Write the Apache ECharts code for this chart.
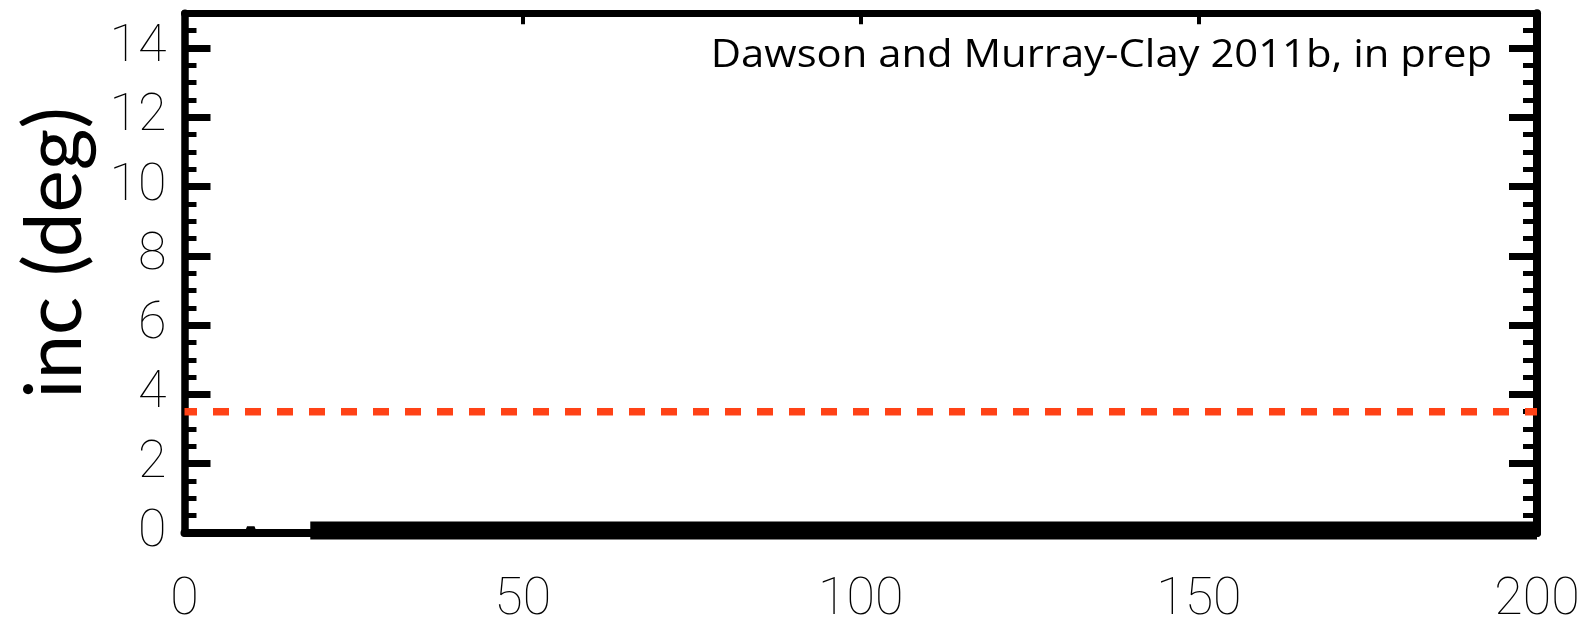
<!DOCTYPE html>
<html>
<head>
<meta charset="utf-8">
<script src="https://cdn.jsdelivr.net/npm/echarts@6/dist/echarts.min.js"></script>
<style>
html,body{margin:0;padding:0;background:#fff;}
#chart{width:1588px;height:621px;}
</style>
</head>
<body>
<div id="chart"></div>
<script>
// ---- data ----
const xTickValues = [0, 50, 100, 150, 200];
const xTopTicks = [50, 100, 150];
const yMajorTicks = [0, 2, 4, 6, 8, 10, 12, 14];
const yMinorTicks = [0.5, 1, 1.5, 2.5, 3, 3.5, 4.5, 5, 5.5, 6.5, 7, 7.5, 8.5, 9, 9.5,
                     10.5, 11, 11.5, 12.5, 13, 13.5, 14.5];
// early (pre-instability) inclination, near zero with a small blip
const earlyX = [0, 9.5, 9.8, 10.1, 18.6];
const earlyY = [0, 0, 0.15, 0, 0];
// later inclination: rapid small oscillation drawn as a thick band
const lateX = [18.6, 200];
const lateY = [0.07, 0.07];
// reference inclination (dashed red)
const refX = [0, 200];
const refY = [3.5, 3.5];
const annotation = 'Dawson and Murray-Clay 2011b, in prep';
const yTitle = 'inc (deg)';

const zip = (a, b) => a.map((v, i) => [v, b[i]]);

const labelFont = {
  fontFamily: 'Roboto',
  fontWeight: 100,
  fontSize: 52,
  color: '#000'
};
const gridRect = {left: 184.5, right: 51, top: 13.3, bottom: 88, containLabel: false,
                  outerBoundsMode: 'none'};

const hiddenX = {
  type: 'value', min: 0, max: 200, gridIndex: 1, show: false
};
const chart = echarts.init(document.getElementById('chart'), null, {renderer: 'canvas'});
const option = {
  backgroundColor: '#fff',
  animation: false,
  grid: [Object.assign({}, gridRect), Object.assign({}, gridRect)],
  xAxis: [
    {
      type: 'value', gridIndex: 0, min: 0, max: 200, interval: 50, position: 'bottom',
      axisLine: {show: true, onZero: false, lineStyle: {color: '#000', width: 8}},
      axisTick: {show: true, inside: true, length: 10, lineStyle: {color: '#000', width: 4}},
      axisLabel: Object.assign({margin: 42, customValues: xTickValues}, labelFont),
      splitLine: {show: false}
    },
    {
      type: 'value', gridIndex: 0, min: 0, max: 200, interval: 50, position: 'top',
      axisLine: {show: true, onZero: false, lineStyle: {color: '#000', width: 7}},
      axisTick: {show: true, inside: true, length: 11, customValues: xTopTicks,
                 lineStyle: {color: '#000', width: 4}},
      axisLabel: {show: false},
      splitLine: {show: false}
    },
    hiddenX
  ],
  yAxis: [
    {
      type: 'value', gridIndex: 0, min: 0, max: 15, position: 'left',
      axisLine: {show: true, onZero: false, lineStyle: {color: '#000', width: 7.5}},
      axisTick: {show: true, inside: true, length: 26, customValues: yMajorTicks,
                 lineStyle: {color: '#000', width: 7}},
      axisLabel: Object.assign({margin: 18, customValues: yMajorTicks, padding: [8, 0, 0, 0]}, labelFont),
      splitLine: {show: false}
    },
    {
      type: 'value', gridIndex: 0, min: 0, max: 15, position: 'right',
      axisLine: {show: true, onZero: false, lineStyle: {color: '#000', width: 8}},
      axisTick: {show: true, inside: true, length: 28, customValues: yMajorTicks,
                 lineStyle: {color: '#000', width: 7}},
      axisLabel: {show: false},
      splitLine: {show: false}
    },
    {
      type: 'value', gridIndex: 1, min: 0, max: 15, position: 'left',
      axisLine: {show: false},
      axisTick: {show: true, inside: true, length: 12, customValues: yMinorTicks,
                 lineStyle: {color: '#000', width: 5}},
      axisLabel: {show: false},
      splitLine: {show: false}
    },
    {
      type: 'value', gridIndex: 1, min: 0, max: 15, position: 'right',
      axisLine: {show: false},
      axisTick: {show: true, inside: true, length: 14, customValues: yMinorTicks,
                 lineStyle: {color: '#000', width: 5}},
      axisLabel: {show: false},
      splitLine: {show: false}
    }
  ],
  series: [
    {
      type: 'line', xAxisIndex: 0, yAxisIndex: 0, data: zip(earlyX, earlyY),
      showSymbol: false, symbol: 'none', clip: false, z: 3,
      lineStyle: {color: '#000', width: 8}
    },
    {
      type: 'line', xAxisIndex: 0, yAxisIndex: 0, data: zip(lateX, lateY),
      showSymbol: false, symbol: 'none', clip: false, z: 3,
      lineStyle: {color: '#000', width: 18, cap: 'butt'}
    },
    {
      type: 'line', xAxisIndex: 0, yAxisIndex: 0, data: zip(refX, refY),
      showSymbol: false, symbol: 'none', clip: false, z: 4,
      lineStyle: {color: '#ff4216', width: 7.5, type: [16, 16], dashOffset: 3.5}
    }
  ],
  graphic: [
    {
      type: 'text', x: 1492, y: 56, z: 10, scaleX: 1.1,
      style: {text: annotation, fontFamily: 'Open Sans', fontSize: 38, fill: '#000',
              align: 'right', verticalAlign: 'middle'}
    },
    {
      type: 'text', x: 55, y: 253, rotation: Math.PI / 2, z: 10,
      style: {text: yTitle, fontFamily: 'Lato', fontSize: 80, fill: '#000',
              align: 'center', verticalAlign: 'middle'}
    }
  ]
};
chart.setOption(option);
</script>
</body>
</html>
